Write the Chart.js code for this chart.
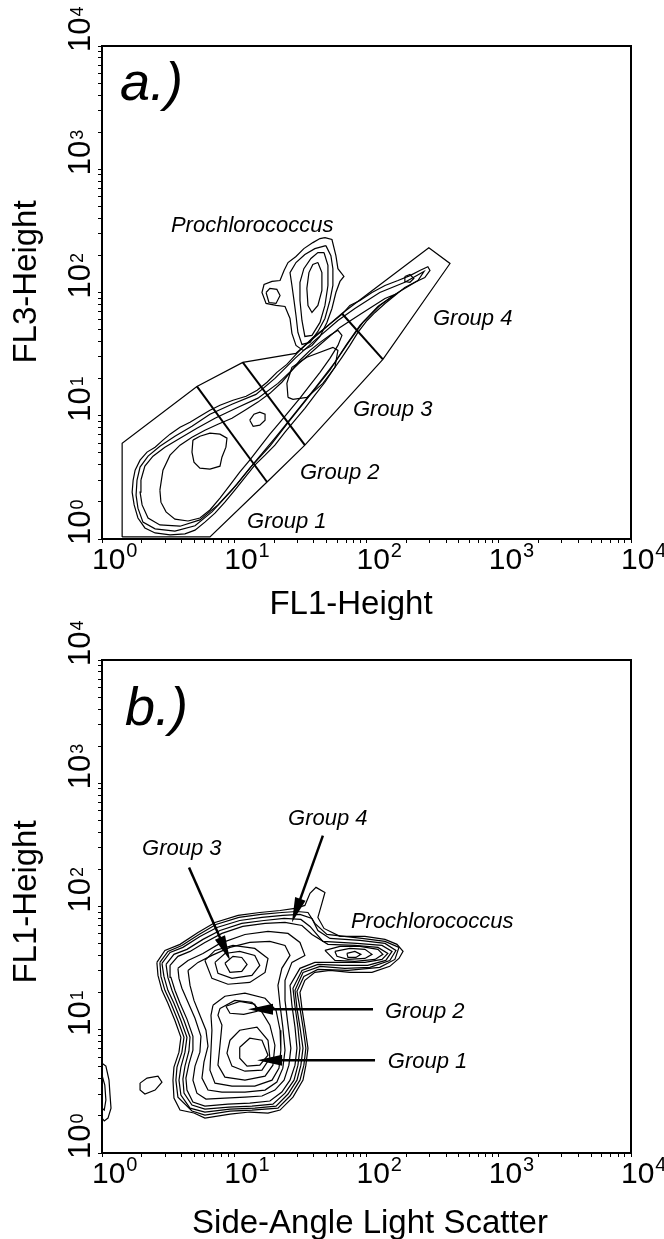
<!DOCTYPE html>
<html>
<head>
<meta charset="utf-8">
<title>Flow cytometry contour plots</title>
<script src="https://cdn.jsdelivr.net/npm/chart.js@4.4.1/dist/chart.umd.min.js"></script>
<style>
  html, body { margin: 0; padding: 0; background: #fff; }
  .panel { position: absolute; left: 0; width: 664px; }
</style>
</head>
<body>
<div class="panel" style="top:0;height:620px"><canvas id="chartA" width="664" height="620"></canvas></div>
<div class="panel" style="top:620px;height:619px"><canvas id="chartB" width="664" height="619"></canvas></div>
<script>
const FONT = "'Liberation Sans', Arial, Helvetica, sans-serif";

// Axes: four log decades, minor ticks at 2..9
const decades = [1, 10, 100, 1000, 10000];
const decadeExponents = ["0", "1", "2", "3", "4"];
const minorSteps = [2, 3, 4, 5, 6, 7, 8, 9];

// ---- Panel a: FL1-Height (x) vs FL3-Height (y) ----
const aOuter1 = [[1.72,3.01],[1.78,3.62],[1.94,4.36],[2.19,5.07],[2.52,5.56],[2.89,6.34],[3.27,7.09],[3.89,8.07],[4.63,8.86],[5.50,9.91],[6.55,11.08],[7.80,12.17],[9.78,13.35],[12.3,14.4],[14.9,16.1],[17.7,18.7],[21.0,22.5],[25.0,26.1],[29.8,32.1],[34.2,37.2],[39.4,43.2],[46.0,49.3],[54.8,57.2],[65.2,66.4],[74.9,78.5],[89.2,86.2],[110,100],[138,114],[173,125],[213,137],[253,151],[291,162],[302,151],[276,132],[232,121],[195,110],[164,94.6],[138,81.5],[116,68.9],[101,59.3],[86.1,47.4],[74.9,37.2],[65.2,29.8],[55.7,23.4],[48.5,18.7],[40.7,14.7],[34.2,11.5],[28.8,9.2],[24.2,7.35],[20.3,5.77],[17.1,4.79],[14.3,3.98],[12.1,3.18],[10.1,2.49],[8.5,1.99],[7.15,1.62],[6.0,1.37],[5.05,1.18],[4.24,1.10],[3.27,1.08],[2.52,1.12],[2.11,1.23],[1.87,1.48],[1.75,1.89],[1.69,2.40]];
const aOuter2 = [[1.84,3.01],[1.94,3.83],[2.23,4.70],[2.74,5.66],[3.56,6.82],[4.79,8.22],[6.55,10.3],[9.61,12.4],[14.6,14.9],[20.3,20.1],[28.8,29.2],[40.7,40.9],[60.8,59.3],[81.7,74.2],[126,100],[195,121],[272,148],[245,125],[173,100],[122,77.0],[89.2,54.1],[69.9,37.2],[52.9,23.4],[37.4,14.7],[26.4,9.2],[18.6,5.66],[13.1,3.76],[9.61,2.49],[6.78,1.66],[5.05,1.28],[3.56,1.16],[2.52,1.21],[2.04,1.37],[1.87,1.78],[1.81,2.27]];
const aOuter3 = [[1.97,3.01],[2.11,3.90],[2.43,4.70],[2.99,5.56],[3.89,6.58],[5.22,7.92],[7.15,9.55],[10.3,11.5],[15.1,13.9],[21.4,18.3],[30.3,26.1],[42.9,36.5],[63.0,52.1],[89.2,66.4],[138,89.4],[164,96.4],[126,78.5],[94.0,57.2],[74.9,40.9],[57.7,27.1],[40.7,16.7],[28.8,10.5],[20.3,6.58],[14.3,4.20],[10.5,2.79],[7.53,1.89],[5.50,1.43],[3.89,1.27],[2.74,1.30],[2.23,1.48],[2.01,1.89],[1.94,2.40]];
const aBand = [[2.74,2.49],[2.89,3.62],[3.27,4.79],[3.89,5.77],[4.79,6.70],[6.0,7.63],[7.53,8.54],[9.61,9.55],[12.05,11.08],[15.1,12.9],[18.6,15.2],[22.9,18.7],[27.3,23.4],[31.4,28.2],[37.4,33.9],[44.5,39.4],[52.9,44.9],[60.8,49.3],[65.2,44.9],[60.8,37.2],[52.9,29.2],[44.5,22.5],[37.4,17.7],[31.4,13.9],[26.4,11.1],[22.2,8.86],[18.6,7.09],[15.6,5.56],[13.1,4.36],[11.0,3.49],[9.28,2.74],[7.80,2.15],[6.55,1.72],[5.50,1.48],[4.47,1.40],[3.56,1.45],[3.05,1.66],[2.79,1.99]];
const aLobeCore = [[4.87,6.34],[5.50,6.82],[6.55,7.22],[7.80,7.09],[8.81,6.58],[8.65,5.56],[8.07,4.61],[7.80,3.90],[6.55,3.69],[5.50,3.76],[4.96,4.20],[4.79,5.07]];
const aGroup2Core = [[13.1,9.20],[14.1,10.3],[15.6,10.7],[17.1,10.3],[17.1,9.20],[15.6,8.38],[13.9,8.22]];
const aGroup3Core = [[25.5,14.1],[25.0,18.3],[27.3,24.7],[35.4,29.8],[55.7,35.9],[60.8,33.9],[57.7,24.7],[46.8,18.3],[35.4,14.1],[27.8,13.6]];
const aGroup4Speck = [[195,135],[213,140],[228,130],[213,121],[195,123]];
const aPro1 = [[48.5,279],[54.8,269],[58.7,199],[60.8,156],[67.5,135],[63.0,123],[58.7,100],[54.8,74.2],[50.2,57.2],[44.5,44.0],[38.7,37.2],[33.1,33.9],[29.3,37.2],[27.3,46.6],[26.4,61.6],[24.2,77.0],[20.7,78.5],[17.4,81.5],[16.2,100],[16.8,116],[19.3,123],[22.2,125],[23.8,151],[25.5,175],[29.3,196],[33.6,227],[39.3,254],[44.5,274]];
const aPro2 = [[49.3,240],[53.8,199],[55.7,156],[55.7,114],[52.9,86.2],[48.5,61.6],[42.9,48.3],[37.4,39.4],[32.5,37.9],[30.3,47.4],[29.3,65.1],[28.3,86.2],[27.3,114],[26.4,145],[29.3,175],[34.2,203],[40.7,227]];
const aPro3 = [[47.7,211],[51.1,166],[51.1,114],[48.5,78.5],[44.5,57.2],[38.7,44.9],[34.2,44.0],[32.5,59.3],[31.4,86.2],[31.4,121],[33.6,156],[38.0,189],[42.9,211]];
const aPro4 = [[42.9,175],[46.0,145],[46.0,104],[42.9,78.5],[38.7,68.9],[36.1,78.5],[35.4,108],[36.7,145],[39.3,169]];
const aProSide = [[17.4,100],[18.6,108],[21.0,106],[22.2,94.6],[20.7,81.5],[18.3,83.0]];

// gate polygon and the cuts between groups
const aGateOutline = [[1.42,1.04],[1.42,5.99],[5.22,17.3],[11.6,27.1],[29.3,32.1],[65.2,67.6],[296,231],[428,172],[133,28.7],[34.2,5.77],[17.7,2.90],[6.55,1.04]];
const aCut12 = [[5.22,17.3],[17.7,2.90]];
const aCut23 = [[11.6,27.1],[34.2,5.77]];
const aCut34 = [[65.2,67.6],[133,28.7]];

const aLabelText = ["Prochlorococcus", "Group 4", "Group 3", "Group 2", "Group 1"];
const aLabelX = [3.32, 318, 78.9, 31.4, 12.5];
const aLabelY = [312, 54.1, 9.91, 3.06, 1.23];

// ---- Panel b: side scatter (x) vs FL1-Height (y) ----
const bLevel1 = [[2.60,35.2],[2.99,44.0],[3.89,49.3],[5.32,61.6],[7.15,74.2],[10.7,84.6],[15.6,89.4],[22.2,92.8],[28.8,96.4],[34.2,102],[37.4,128],[41.5,143],[48.5,130],[46.0,106],[42.9,81.5],[47.7,66.4],[63.0,57.2],[97.3,57.2],[138,54.1],[170,49.3],[189,43.2],[176,37.9],[150,32.7],[110,29.2],[74.9,29.2],[52.9,30.3],[40.7,29.2],[34.2,25.2],[31.4,20.1],[32.5,14.9],[34.2,10.5],[36.1,7.09],[34.8,5.16],[33.1,3.90],[27.8,2.84],[22.2,2.23],[18.0,2.11],[13.1,2.15],[9.28,2.07],[6.0,1.92],[4.96,2.11],[3.89,2.23],[3.50,2.79],[3.44,3.90],[3.50,4.97],[3.82,6.58],[3.95,8.70],[3.56,11.9],[3.15,16.4],[2.84,20.9],[2.65,27.6]];
const bLevel1b = [[2.74,35.2],[3.15,43.2],[4.02,48.3],[5.41,59.3],[7.27,71.5],[10.85,81.5],[15.9,86.2],[22.9,89.4],[29.8,91.1],[36.1,89.4],[40.7,72.9],[50.2,59.3],[92.3,55.1],[138,52.1],[176,46.6],[164,37.2],[126,32.1],[72.4,30.3],[42.9,30.9],[33.6,27.1],[29.8,20.5],[31.4,14.9],[33.1,10.5],[34.8,7.09],[33.6,5.16],[31.4,3.90],[26.4,2.90],[21.4,2.31],[13.6,2.23],[9.28,2.19],[6.0,2.03],[4.79,2.19],[3.75,2.84],[3.62,3.90],[3.69,4.97],[4.02,6.58],[4.17,8.70],[3.75,11.9],[3.32,16.4],[2.99,20.9],[2.79,27.1]];
const bLevel2 = [[2.84,34.6],[3.27,42.4],[4.09,46.6],[5.50,57.2],[7.40,67.6],[11.0,77.0],[16.2,81.5],[23.3,84.6],[31.4,86.2],[38.7,80.0],[42.9,63.9],[52.9,55.1],[89.2,53.1],[138,50.2],[167,44.0],[150,36.5],[106,32.1],[68.7,31.5],[44.5,32.7],[33.1,29.2],[28.8,20.9],[29.8,14.9],[31.4,10.5],[33.1,7.09],[31.9,5.16],[29.8,3.90],[25.5,3.01],[20.7,2.40],[14.3,2.31],[9.28,2.27],[6.0,2.15],[4.63,2.31],[3.95,2.95],[3.82,3.90],[3.95,4.97],[4.24,6.58],[4.39,8.70],[3.95,11.9],[3.50,16.4],[3.15,20.9],[2.94,27.1]];
const bLevel2b = [[3.05,33.9],[3.50,40.9],[4.39,44.9],[5.80,54.1],[7.80,63.9],[11.4,72.9],[16.8,77.0],[23.8,80.0],[31.9,78.5],[37.4,68.9],[46.8,52.1],[84.6,50.2],[131,48.3],[156,43.2],[140,36.5],[102,33.3],[65.2,33.3],[42.9,33.9],[32.5,30.3],[27.8,21.7],[28.8,15.5],[30.3,10.5],[31.4,7.09],[30.3,5.16],[28.3,3.90],[24.2,3.06],[19.6,2.49],[13.6,2.40],[9.12,2.36],[6.0,2.27],[4.79,2.45],[4.17,3.06],[4.09,3.98],[4.24,5.07],[4.54,6.70],[4.63,8.70],[4.17,11.9],[3.69,16.4],[3.38,20.9],[3.15,26.6]];
const bLevel3 = [[3.27,33.3],[3.75,39.4],[4.63,43.2],[6.0,51.1],[8.07,60.5],[11.6,68.9],[17.1,72.9],[24.2,74.2],[32.5,70.2],[38.7,59.3],[51.1,49.3],[81.7,48.3],[122,46.6],[145,41.6],[131,37.2],[97.3,35.2],[63.0,35.2],[40.7,35.2],[31.4,31.5],[26.4,22.9],[27.3,15.8],[28.8,10.5],[29.8,7.09],[28.8,5.16],[26.4,3.90],[22.9,3.12],[18.6,2.64],[13.1,2.54],[8.96,2.49],[6.0,2.40],[4.87,2.59],[4.39,3.24],[4.31,4.05],[4.54,5.26],[4.87,6.82],[4.87,8.86],[4.39,12.2],[3.89,16.4],[3.56,20.9],[3.32,26.6]];
const bLevel4 = [[3.75,31.5],[4.47,36.5],[5.80,41.6],[7.80,50.2],[12.05,59.3],[18.0,62.8],[25.5,60.5],[31.4,51.1],[34.2,40.1],[27.3,35.2],[24.2,25.2],[24.2,17.3],[25.5,10.9],[26.8,7.09],[25.9,5.16],[23.8,3.90],[20.3,3.24],[16.2,2.90],[12.05,2.84],[8.5,2.79],[6.11,2.74],[5.22,3.06],[4.87,3.90],[5.05,5.07],[5.50,6.58],[5.60,8.86],[5.05,12.4],[4.47,16.7],[4.02,21.7],[3.82,26.1]];
const bLevel5 = [[4.47,30.3],[5.32,35.2],[6.78,40.1],[9.28,46.6],[13.1,51.1],[18.6,52.1],[24.2,48.3],[26.4,40.1],[22.9,31.5],[21.4,22.9],[22.2,15.8],[23.3,10.5],[24.2,6.82],[23.3,4.88],[21.0,3.76],[17.1,3.24],[12.05,3.12],[8.07,3.12],[6.33,3.24],[5.70,4.05],[5.90,5.46],[6.33,7.35],[6.11,9.91],[5.50,13.1],[4.96,17.3],[4.63,22.9]];
const bUpper6 = [[6.0,36.5],[7.15,44.0],[9.78,48.3],[14.3,45.7],[18.0,37.9],[17.1,29.2],[13.1,24.2],[8.96,23.4],[6.78,26.1]];
const bLower6 = [[6.90,15.8],[8.5,18.7],[12.05,19.8],[17.1,18.0],[20.7,14.4],[22.2,9.91],[22.5,6.82],[21.8,4.88],[19.3,3.90],[14.3,3.49],[9.61,3.49],[7.15,3.69],[6.55,4.70],[6.67,6.82],[6.78,9.91],[6.67,13.1]];
const bUpper7 = [[7.15,35.2],[8.5,41.6],[11.0,43.2],[14.3,40.1],[15.6,33.3],[13.6,27.6],[9.61,26.1],[7.53,28.7]];
const bLower7 = [[7.80,14.9],[10.1,17.3],[13.6,16.7],[16.2,13.9],[18.6,10.9],[20.3,7.49],[19.6,5.16],[17.1,4.20],[12.05,3.90],[8.5,4.13],[7.53,5.16],[7.80,7.49],[8.07,10.9],[7.53,13.1]];
const bGroup1Ring = [[9.28,8.22],[11.0,9.91],[14.85,10.5],[18.0,8.22],[18.6,5.88],[16.2,4.70],[12.05,4.61],[9.61,5.07],[8.81,6.45]];
const bGroup1Core = [[11.0,7.22],[13.1,8.54],[16.2,8.22],[18.0,6.22],[15.6,5.16],[12.5,5.07],[11.0,5.88]];
const bGroup2Core = [[8.65,15.5],[11.0,17.0],[14.3,16.1],[14.85,14.1],[11.8,13.35],[9.28,13.6]];
const bGroup3Core = [[8.5,34.6],[9.78,39.4],[11.4,38.6],[12.5,33.9],[11.4,29.8],[9.28,29.2]];
const bPro1 = [[48.5,44.0],[63.0,47.4],[89.2,47.4],[122,44.9],[133,40.9],[116,37.2],[81.7,35.9],[57.7,36.5]];
const bPro2 = [[57.7,43.2],[74.9,45.7],[97.3,44.9],[110,40.9],[97.3,37.9],[72.4,37.2],[59.8,39.4]];
const bPro3 = [[71.1,41.6],[81.7,43.2],[90.7,40.9],[83.2,38.6],[72.4,38.6]];
const bSideBlob = [[1.94,3.69],[2.19,4.05],[2.65,4.20],[2.84,3.76],[2.52,3.24],[2.11,3.01],[1.94,3.24]];
const bAxisBlob1 = [[1.0,5.36],[1.07,5.07],[1.13,3.90],[1.15,2.95],[1.17,2.31],[1.11,1.92],[1.04,1.82],[1.0,1.92]];
const bAxisBlob2 = [[1.0,4.28],[1.05,3.55],[1.07,2.69],[1.04,2.23],[1.0,2.31]];

const bLabelText = ["Group 4", "Group 3", "Prochlorococcus", "Group 2", "Group 1"];
const bLabelX = [25.5, 2.01, 76.2, 138, 145];
const bLabelY = [461, 264, 66.4, 12.4, 4.88];
const bArrowFrom = [[46.8,376],[4.55,207],[112,14.7],[116,5.66]];
const bArrowTo = [[27.3,74.2],[9.3,36.5],[12.7,14.7],[14.9,5.66]];

// ---- helpers ----
const tickValues = [];
decades.forEach((d, i) => {
  tickValues.push(d);
  if (i < decades.length - 1) minorSteps.forEach(m => tickValues.push(m * d));
});

function ring(pts, width) {
  const data = pts.map(p => ({ x: p[0], y: p[1] }));
  data.push({ x: pts[0][0], y: pts[0][1] });
  return { data, showLine: true, borderColor: "#000", borderWidth: width || 1.2, pointRadius: 0, fill: false, tension: 0 };
}

function segment(pts, width) {
  return { data: pts.map(p => ({ x: p[0], y: p[1] })), showLine: true, borderColor: "#000", borderWidth: width, pointRadius: 0, fill: false, tension: 0 };
}

function logAxis(title, isX, fitSize) {
  return {
    type: "logarithmic",
    position: isX ? "bottom" : "left",
    min: 1,
    max: 10000,
    afterBuildTicks: s => { s.ticks = tickValues.map(v => ({ value: v, major: decades.includes(v) })); },
    afterFit: s => { if (isX) s.height = fitSize; else s.width = fitSize; },
    // "10" + superscript labels and the titles are drawn by the decor plugin
    ticks: { display: false, autoSkip: false },
    grid: { drawOnChartArea: false, drawTicks: true, tickLength: 4, color: "#000", lineWidth: 1 },
    border: { display: true, color: "#000", width: 2 },
    title: { display: false, text: title }
  };
}

function drawPower(ctx, exp, mainSize, supSize, rise) {
  ctx.font = mainSize + "px " + FONT;
  ctx.fillText("10", 0, 0);
  const w = ctx.measureText("10").width;
  ctx.font = supSize + "px " + FONT;
  ctx.fillText(exp, w + 1, -rise);
}

// frame, tick labels, axis titles, panel tag, italic labels and arrows
const decorPlugin = {
  id: "decor",
  afterDraw(chart, args, opts) {
    const { ctx, chartArea: a, scales: { x, y } } = chart;
    ctx.save();
    ctx.strokeStyle = "#000";
    ctx.lineWidth = 2;
    ctx.strokeRect(a.left, a.top, a.right - a.left, a.bottom - a.top);

    ctx.fillStyle = "#000";
    ctx.textAlign = "left";
    ctx.textBaseline = "alphabetic";
    decades.forEach((v, i) => {
      const px = x.getPixelForValue(v);
      ctx.save();
      ctx.translate(px - 10, a.bottom + 30);
      drawPower(ctx, decadeExponents[i], 30, 20, 12);
      ctx.restore();

      const py = y.getPixelForValue(v);
      ctx.save();
      ctx.translate(a.left - 12, py + 6);
      ctx.rotate(-Math.PI / 2);
      drawPower(ctx, decadeExponents[i], 31, 18, 7);
      ctx.restore();
    });

    ctx.font = "33px " + FONT;
    ctx.textAlign = "center";
    ctx.fillText(x.options.title.text, a.left + opts.xTitleDx, a.bottom + opts.xTitleDy);
    ctx.save();
    ctx.translate(36, opts.yTitleY);
    ctx.rotate(-Math.PI / 2);
    ctx.fillText(y.options.title.text, 0, 0);
    ctx.restore();

    ctx.textAlign = "left";
    ctx.font = "italic 54px " + FONT;
    ctx.fillText(opts.tag, a.left + opts.tagDx, a.top + opts.tagDy);

    ctx.font = "italic 22px " + FONT;
    opts.labels.forEach((t, i) => {
      ctx.fillText(t, x.getPixelForValue(opts.lx[i]), y.getPixelForValue(opts.ly[i]));
    });

    (opts.from || []).forEach((f, i) => {
      const t = opts.to[i];
      const x0 = x.getPixelForValue(f[0]), y0 = y.getPixelForValue(f[1]);
      const x1 = x.getPixelForValue(t[0]), y1 = y.getPixelForValue(t[1]);
      const ang = Math.atan2(y1 - y0, x1 - x0);
      const len = 25, half = 5.5;
      ctx.lineWidth = 2.5;
      ctx.beginPath();
      ctx.moveTo(x0, y0);
      ctx.lineTo(x1 - Math.cos(ang) * len * 0.8, y1 - Math.sin(ang) * len * 0.8);
      ctx.stroke();
      ctx.beginPath();
      ctx.moveTo(x1, y1);
      ctx.lineTo(x1 - Math.cos(ang) * len - Math.sin(ang) * half, y1 - Math.sin(ang) * len + Math.cos(ang) * half);
      ctx.lineTo(x1 - Math.cos(ang) * len + Math.sin(ang) * half, y1 - Math.sin(ang) * len - Math.cos(ang) * half);
      ctx.closePath();
      ctx.fill();
    });
    ctx.restore();
  }
};

function baseOptions(padTop, xFit, xTitle, yTitle, decor) {
  return {
    responsive: false,
    animation: false,
    devicePixelRatio: 1,
    events: [],
    layout: { padding: { left: 0, top: padTop, right: 33, bottom: 0 } },
    plugins: { legend: { display: false }, tooltip: { enabled: false }, decor },
    scales: { x: logAxis(xTitle, true, xFit), y: logAxis(yTitle, false, 102) }
  };
}

new Chart(document.getElementById("chartA"), {
  type: "scatter",
  data: {
    datasets: [
      ring(aOuter1), ring(aOuter2), ring(aOuter3), ring(aBand), ring(aLobeCore),
      ring(aGroup2Core), ring(aGroup3Core), ring(aGroup4Speck),
      ring(aPro1), ring(aPro2), ring(aPro3), ring(aPro4), ring(aProSide),
      ring(aGateOutline, 1.2), segment(aCut12, 2), segment(aCut23, 2), segment(aCut34, 2)
    ]
  },
  options: baseOptions(46, 81, "FL1-Height", "FL3-Height",
    { tag: "a.)", tagDx: 18, tagDy: 54, labels: aLabelText, lx: aLabelX, ly: aLabelY,
      xTitleDx: 249, xTitleDy: 75, yTitleY: 282 }),
  plugins: [decorPlugin]
});

new Chart(document.getElementById("chartB"), {
  type: "scatter",
  data: {
    datasets: [
      ring(bLevel1), ring(bLevel1b), ring(bLevel2), ring(bLevel2b), ring(bLevel3), ring(bLevel4), ring(bLevel5),
      ring(bUpper6), ring(bLower6), ring(bUpper7), ring(bLower7),
      ring(bGroup1Ring), ring(bGroup1Core), ring(bGroup2Core), ring(bGroup3Core),
      ring(bPro1), ring(bPro2), ring(bPro3),
      ring(bSideBlob), ring(bAxisBlob1), ring(bAxisBlob2)
    ]
  },
  options: baseOptions(40, 86, "Side-Angle Light Scatter", "FL1-Height",
    { tag: "b.)", tagDx: 23, tagDy: 65, labels: bLabelText, lx: bLabelX, ly: bLabelY, from: bArrowFrom, to: bArrowTo,
      xTitleDx: 268, xTitleDy: 80, yTitleY: 282 }),
  plugins: [decorPlugin]
});
</script>
</body>
</html>
